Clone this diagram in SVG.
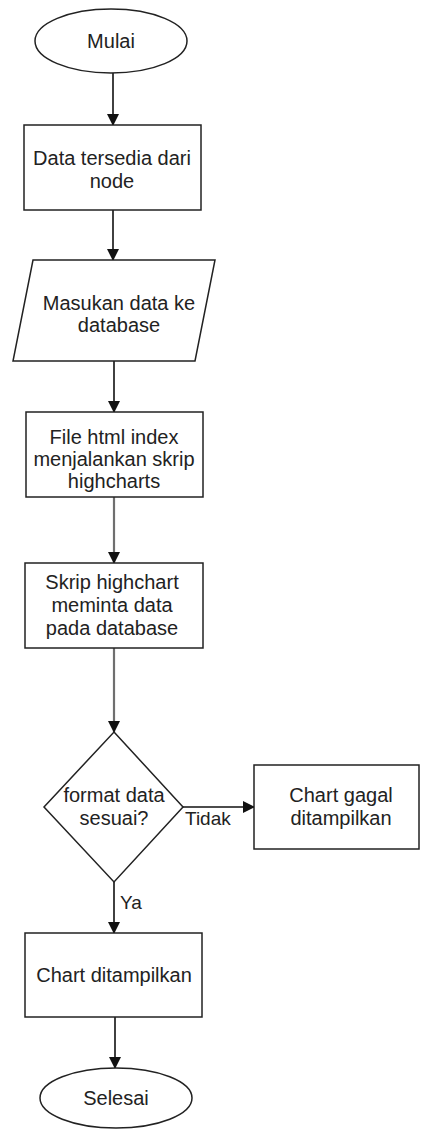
<svg xmlns="http://www.w3.org/2000/svg" width="421" height="1130" viewBox="0 0 421 1130">
  <style>
    .shape { fill: #ffffff; stroke: #222222; stroke-width: 1.5; }
    .label { font-family: "Liberation Sans", Arial, sans-serif; font-size: 20px; fill: #222222; text-anchor: middle; }
    .edge { fill: none; stroke: #111111; stroke-width: 1.6; }
    .edge.soft { stroke: #6f6f6f; stroke-width: 2.2; }
    .elabel { font-family: "Liberation Sans", Arial, sans-serif; font-size: 19px; fill: #222222; }
  </style>
  <defs>
    <marker id="head" markerWidth="12" markerHeight="12" viewBox="0 0 12 12" refX="11" refY="6" orient="auto" markerUnits="userSpaceOnUse">
      <path d="M0,0 L12,6 L0,12 Z" fill="#111111"/>
    </marker>
  </defs>
  <rect width="421" height="1130" fill="#ffffff"/>

  <g id="connectors">
    <line class="edge" x1="113" y1="73" x2="113" y2="125" marker-end="url(#head)"/>
    <line class="edge" x1="113" y1="210" x2="113" y2="260" marker-end="url(#head)"/>
    <line class="edge" x1="114" y1="361" x2="114" y2="412" marker-end="url(#head)"/>
    <line class="edge soft" x1="114" y1="497" x2="114" y2="563" marker-end="url(#head)"/>
    <line class="edge soft" x1="114" y1="648" x2="114" y2="732" marker-end="url(#head)"/>
    <line class="edge" x1="183" y1="807" x2="254" y2="807" marker-end="url(#head)"/>
    <line class="edge" x1="114" y1="882" x2="114" y2="933" marker-end="url(#head)"/>
    <line class="edge" x1="115" y1="1017" x2="115" y2="1068" marker-end="url(#head)"/>
    <text class="elabel" x="185" y="825">Tidak</text>
    <text class="elabel" x="120" y="909">Ya</text>
  </g>

  <g id="start">
    <ellipse class="shape" cx="111" cy="41" rx="76" ry="32"/>
    <text class="label" x="111" y="48">Mulai</text>
  </g>

  <g id="data-source">
    <rect class="shape" x="24" y="125" width="177" height="85"/>
    <text class="label" x="112" y="165">Data tersedia dari</text>
    <text class="label" x="112" y="188">node</text>
  </g>

  <g id="insert-db">
    <polygon class="shape" points="33,260 215,260 195,361 13,361"/>
    <text class="label" x="119" y="310">Masukan data ke</text>
    <text class="label" x="119" y="332">database</text>
  </g>

  <g id="html-index">
    <rect class="shape" x="26" y="412" width="177" height="85"/>
    <text class="label" x="114" y="444">File html index</text>
    <text class="label" x="114" y="466">menjalankan skrip</text>
    <text class="label" x="114" y="488">highcharts</text>
  </g>

  <g id="request-data">
    <rect class="shape" x="25" y="563" width="178" height="85"/>
    <text class="label" x="112" y="589">Skrip highchart</text>
    <text class="label" x="112" y="612">meminta data</text>
    <text class="label" x="112" y="635">pada database</text>
  </g>

  <g id="check-format">
    <polygon class="shape" points="114,732 183,807 114,882 44,807"/>
    <text class="label" x="114" y="802">format data</text>
    <text class="label" x="114" y="825">sesuai?</text>
  </g>

  <g id="chart-failed">
    <rect class="shape" x="254" y="765" width="165" height="84"/>
    <text class="label" x="341" y="802">Chart gagal</text>
    <text class="label" x="341" y="825">ditampilkan</text>
  </g>

  <g id="chart-shown">
    <rect class="shape" x="25" y="933" width="177" height="84"/>
    <text class="label" x="114" y="982">Chart ditampilkan</text>
  </g>

  <g id="end">
    <ellipse class="shape" cx="116" cy="1098" rx="76" ry="30"/>
    <text class="label" x="116" y="1105">Selesai</text>
  </g>
</svg>
